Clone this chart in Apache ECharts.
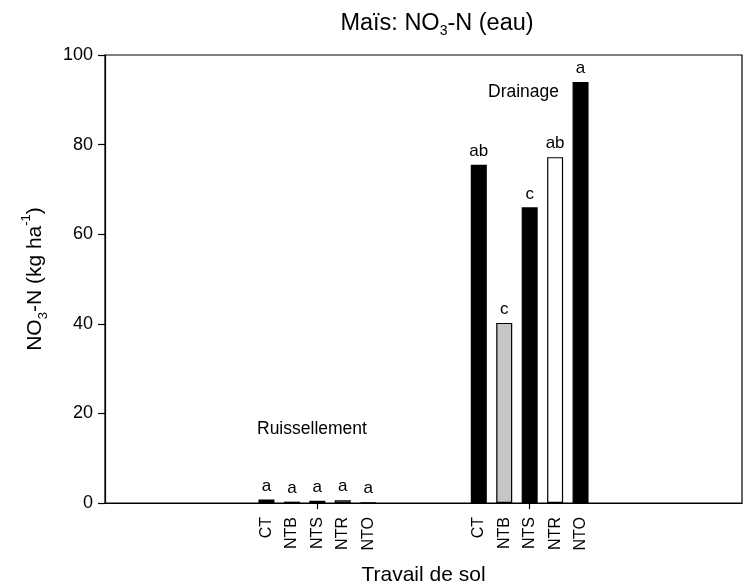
<!DOCTYPE html>
<html><head><meta charset="utf-8">
<script src="https://cdn.jsdelivr.net/npm/echarts@6/dist/echarts.min.js"></script>
<style>html,body{margin:0;padding:0;background:#fff}#c{width:746px;height:586px}</style>
</head><body><div id="c"></div>
<script>
const groups = ['', 'Ruissellement', 'Drainage', ''];
const treatments = ['CT', 'NTB', 'NTS', 'NTR', 'NTO'];
const ruissValues = [0.8, 0.3, 0.5, 0.6, 0.1];
const drainValues = [75.5, 40.2, 66, 77.2, 94];
const ruissLetters = ['a', 'a', 'a', 'a', 'a'];
const drainLetters = ['ab', 'c', 'c', 'ab', 'a'];
const yTicks = [0, 20, 40, 60, 80, 100];

const FONT = 'Liberation Sans, Arial, sans-serif';
const fills = ['#000', '#c6c6c6', '#000', '#fff', '#000'];

const chart = echarts.init(document.getElementById('c'), null, {renderer: 'canvas'});

const barSeries = treatments.map((t, i) => ({
  type: 'bar', name: t, xAxisIndex: 0, yAxisIndex: 0,
  barWidth: 16, barGap: '59%',
  data: [null, ruissValues[i], drainValues[i], null],
  itemStyle: {color: fills[i], borderColor: '#000', borderWidth: 1.2},
  label: {
    show: true, position: 'top', distance: 5,
    fontFamily: FONT, fontSize: 17, color: '#000',
    formatter: p => p.dataIndex === 1 ? ruissLetters[i] : drainLetters[i]
  },
  silent: true, animation: false
}));

const nameSeries = treatments.map((t, i) => ({
  type: 'bar', name: t + '_lbl', xAxisIndex: 1, yAxisIndex: 0,
  barWidth: 16, barGap: '59%',
  data: [null, ruissValues[i], drainValues[i], null],
  itemStyle: {color: 'rgba(0,0,0,0)'},
  label: {
    show: true, position: 'bottom', distance: 14, rotate: 90,
    align: 'right', verticalAlign: 'middle',
    fontFamily: FONT, fontSize: 16, color: '#000',
    formatter: () => t
  },
  silent: true, animation: false
}));

chart.setOption({
  animation: false,
  backgroundColor: '#fff',
  title: [
    {text: '{n|Maïs: NO}{s|3}{n|-N (eau)}', left: 437, top: 12, textAlign: 'center', padding: 0,
     textStyle: {rich: {n: {fontFamily: FONT, fontSize: 23.5, fontWeight: 'normal', color: '#000', verticalAlign: 'top'},
                        s: {fontFamily: FONT, fontSize: 14, fontWeight: 'normal', color: '#000', verticalAlign: 'top', padding: [12, 0, 0, 0]}}}},
    {text: 'Drainage', left: 488, top: 83, padding: 0, textStyle: {fontFamily: FONT, fontSize: 17.5, fontWeight: 'normal', color: '#000'}},
    {text: 'Ruissellement', left: 257, top: 420, padding: 0, textStyle: {fontFamily: FONT, fontSize: 17.5, fontWeight: 'normal', color: '#000'}}
  ],
  grid: {left: 105, right: 4, top: 55, bottom: 83, containLabel: false, outerBoundsMode: 'none',
         show: true, borderColor: '#000', borderWidth: 1.2, backgroundColor: 'transparent'},
  xAxis: [
    {type: 'category', data: groups, boundaryGap: false, position: 'bottom',
     name: 'Travail de sol', nameLocation: 'middle', nameGap: 62,
     nameTextStyle: {fontFamily: FONT, fontSize: 21, color: '#000'},
     axisLine: {lineStyle: {color: '#000', width: 1.2}},
     axisTick: {show: true, length: 6, interval: (idx) => idx === 1 || idx === 2, lineStyle: {color: '#000', width: 1.2}},
     axisLabel: {show: false}, splitLine: {show: false}},
    {type: 'category', data: groups, boundaryGap: false, position: 'bottom', show: false}
  ],
  yAxis: [{
    type: 'value', min: yTicks[0], max: yTicks[yTicks.length - 1], interval: 20,
    name: '{n|NO}{s|3}{n|-N (kg ha}{p|-1}{n|)}', nameLocation: 'middle', nameGap: 55,
    nameTextStyle: {rich: {
      n: {fontFamily: FONT, fontSize: 21, color: '#000', verticalAlign: 'top', padding: [5, 0, 0, 0]},
      s: {fontFamily: FONT, fontSize: 13, color: '#000', verticalAlign: 'top', padding: [17, 0, 0, 0]},
      p: {fontFamily: FONT, fontSize: 13, color: '#000', verticalAlign: 'top', padding: [0, 0, 0, 0]}
    }},
    axisLine: {show: true, lineStyle: {color: '#000', width: 1.2}},
    axisTick: {show: true, length: 7, lineStyle: {color: '#000', width: 1.2}},
    axisLabel: {fontFamily: FONT, fontSize: 18, color: '#000', margin: 12},
    splitLine: {show: false}
  }],
  series: barSeries.concat(nameSeries)
});
</script></body></html>
